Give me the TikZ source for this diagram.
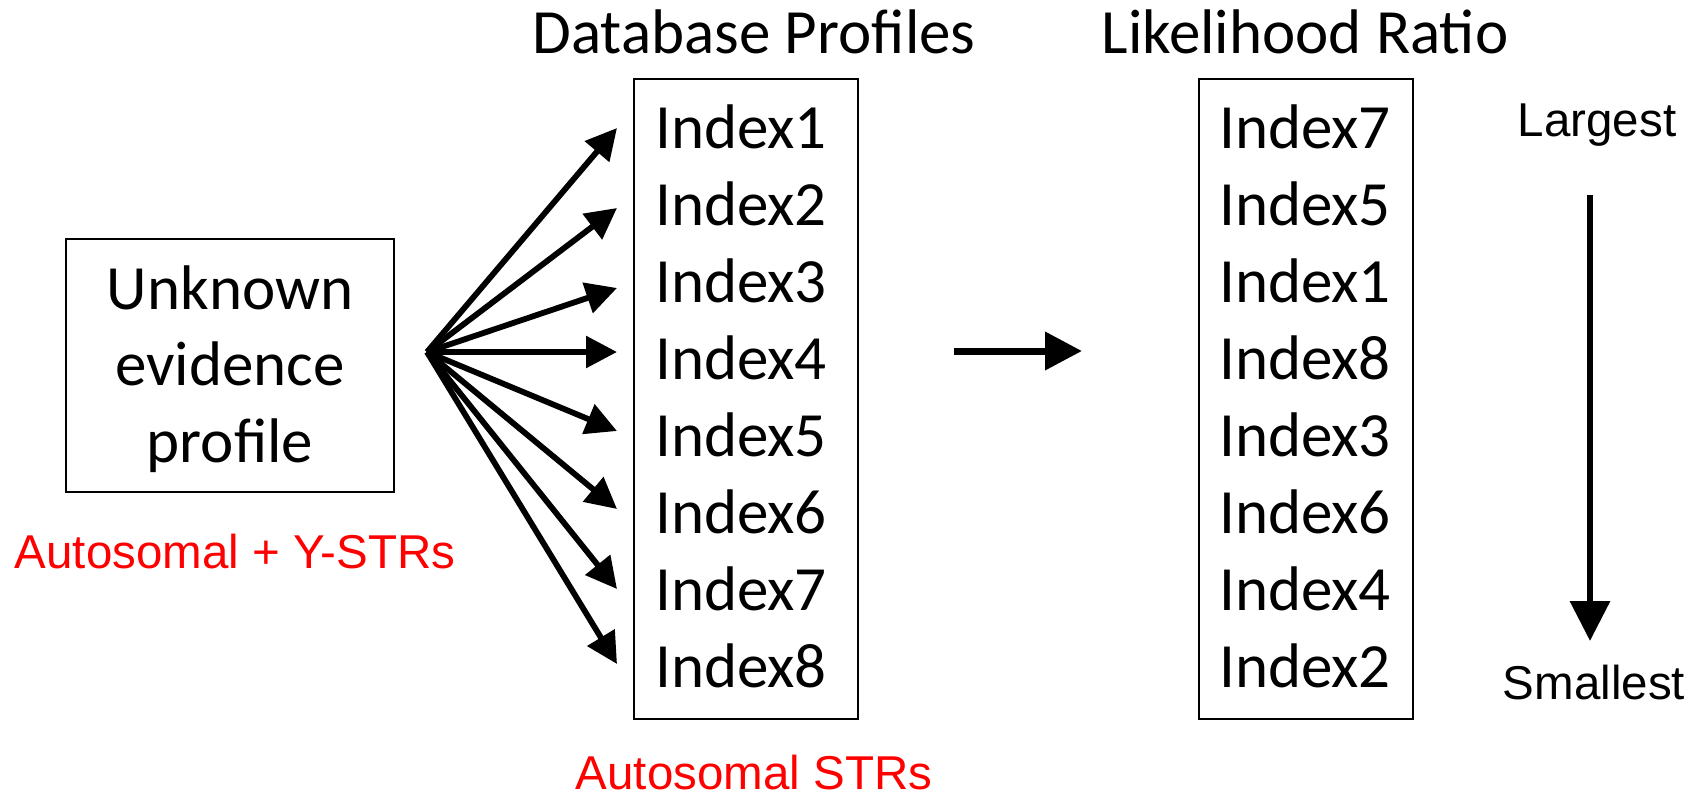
\documentclass[tikz,border=0pt]{standalone}
\usepackage{fontspec}
\setmainfont{Carlito}
\newfontfamily\arialfont{Liberation Sans}
\usetikzlibrary{arrows.meta}
\begin{document}
\begin{tikzpicture}[x=1pt,y=-1pt,
  box/.style={draw, line width=2pt, inner sep=0pt},
  idx/.style={font=\fontsize{63}{76.5}\selectfont, anchor=base, inner sep=0pt},
  lbl/.style={font=\arialfont\fontsize{47.5}{56}\selectfont, anchor=base, inner sep=0pt},
  fan/.style={line width=5.8pt, -{Triangle[length=31pt,width=31pt]}},
]
\useasboundingbox (0,0) rectangle (1698,795);
% left box
\node[box, minimum width=328pt, minimum height=253pt] (unk) at (230,365.5) {};
\node[align=center, inner sep=0pt, font=\fontsize{63}{76.5}\selectfont]
  (unktxt) at (230,369) {Unknown\\evidence\\profile};
\node[lbl, text=red] (auto1) at (235,568) {Autosomal + Y-STRs};
% database box
\node[box, minimum width=224pt, minimum height=640pt] (db) at (746,399) {};
\node[idx] (dbt) at (754,53) {Database Profiles};
\foreach \i in {1,...,8}
  \node[idx] (d\i) at (741,{148+77*(\i-1)}) {Index\i};
\node[lbl, text=red] (auto2) at (754,789) {Autosomal STRs};
% likelihood box
\node[box, minimum width=214pt, minimum height=640pt] (lr) at (1306,399) {};
\node[idx] (lrt) at (1305,53) {Likelihood Ratio};
\foreach \n [count=\k] in {7,5,1,8,3,6,4,2}
  \node[idx] (r\k) at (1305,{148+77*(\k-1)}) {Index\n};
% fan arrows
\coordinate (hub) at (427,352);
\foreach \y [count=\k] in {128,208,288,352,431,509,589,664} {
  \coordinate (t\k) at (617,\y);
  \draw[fan] (hub) -- (t\k);
}
% middle arrow
\coordinate (m0) at (954,351);
\coordinate (m1) at (1082,351);
\draw[line width=7pt, -{Triangle[length=37pt,width=37pt]}] (m0) -- (m1);
% ranking arrow
\node[lbl] (lg) at (1597,136) {Largest};
\node[lbl] (sm) at (1594,699) {Smallest};
\coordinate (v0) at (1590,195);
\coordinate (v1) at (1590,641);
\draw[line width=6.5pt, -{Triangle[length=40pt,width=39pt]}] (v0) -- (v1);
\end{tikzpicture}
\end{document}
